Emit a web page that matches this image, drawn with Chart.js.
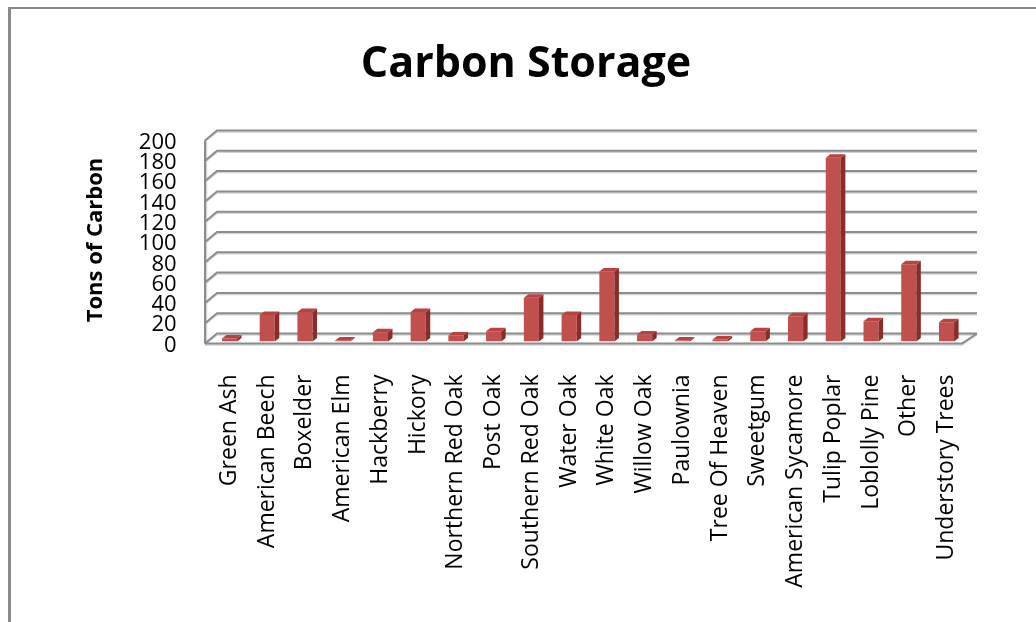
<!DOCTYPE html>
<html><head><meta charset="utf-8">
<script src="https://cdn.jsdelivr.net/npm/chart.js@4/dist/chart.umd.min.js"></script>
<style>html,body{margin:0;padding:0;background:#fff;overflow:hidden}
#wrap{position:relative;width:1036px;height:622px}</style></head>
<body><div id="wrap"><canvas id="c"></canvas></div>
<script>
const categories = ["Green Ash","American Beech","Boxelder","American Elm","Hackberry","Hickory","Northern Red Oak","Post Oak","Southern Red Oak","Water Oak","White Oak","Willow Oak","Paulownia","Tree Of Heaven","Sweetgum","American Sycamore","Tulip Poplar","Loblolly Pine","Other","Understory Trees"];
const carbonTons = [3,26,29,1,9,29,6,10,43,26,69,7,1,2,10,25,181,20,76,19];
const yTicks = [0,20,40,60,80,100,120,140,160,180,200];
const chartTitle = "Carbon Storage";
const yTitle = "Tons of Carbon";

const FONT = "'Open Sans', 'DejaVu Sans', sans-serif";
const frame3d = {
  id: 'frame3d',
  beforeDraw(chart) {
    const ctx = chart.ctx;
    ctx.save();
    ctx.fillStyle = '#8a8a8a';
    ctx.fillRect(8, 7, 3, 615);
    ctx.fillRect(8, 7, 1028, 2);
    ctx.restore();
  },
  beforeDatasetsDraw(chart) {
    const {ctx, chartArea: a, scales: {y}} = chart;
    const fx = a.left - 5.6, bx = a.left + 6.4, brx = a.right + 11.6, frx = a.right - 3.4;
    const fdy = 2, bdy = -8;
    ctx.save();
    const drawAll = (off, color, w) => {
      ctx.strokeStyle = color; ctx.lineWidth = w;
      yTicks.forEach(v => {
        const yy = y.getPixelForValue(v) + off;
        ctx.beginPath(); ctx.moveTo(fx, yy + fdy); ctx.lineTo(bx, yy + bdy); ctx.lineTo(brx, yy + bdy); ctx.stroke();
      });
      const y0 = y.getPixelForValue(0) + off, yT = y.getPixelForValue(200) + off;
      ctx.beginPath(); ctx.moveTo(fx + off, y0 + fdy); ctx.lineTo(fx + off, yT + fdy); ctx.stroke();
      ctx.beginPath(); ctx.moveTo(fx, y0 + fdy); ctx.lineTo(frx, y0 + fdy); ctx.lineTo(brx, y0 + bdy); ctx.stroke();
    };
    drawAll(1.5, '#d4d4d4', 1.5);
    drawAll(0, '#8c8c8c', 2);
    ctx.restore();
  },
  afterDatasetsDraw(chart) {
    const ctx = chart.ctx;
    const d = 4.5, dy = 3.5;
    ctx.save();
    chart.getDatasetMeta(0).data.forEach(bar => {
      const l = bar.x - bar.width / 2, r = bar.x + bar.width / 2, t = bar.y, b = bar.base;
      ctx.fillStyle = '#8b2c2a';
      ctx.beginPath(); ctx.moveTo(r, t); ctx.lineTo(r + d, t - dy); ctx.lineTo(r + d, b - dy); ctx.lineTo(r, b); ctx.closePath(); ctx.fill();
      ctx.fillStyle = '#b8423f';
      ctx.beginPath(); ctx.moveTo(l, t); ctx.lineTo(l + d, t - dy); ctx.lineTo(r + d, t - dy); ctx.lineTo(r, t); ctx.closePath(); ctx.fill();
    });
    ctx.restore();
  }
};

new Chart(document.getElementById('c'), {
  type: 'bar',
  data: {
    labels: categories,
    datasets: [{
      data: carbonTons,
      backgroundColor: '#c0504d',
      borderWidth: 0,
      barPercentage: 0.4,
      categoryPercentage: 1.0
    }]
  },
  options: {
    responsive: true,
    maintainAspectRatio: false,
    animation: false,
    devicePixelRatio: 1,
    layout: {padding: {left: 16, right: 0, top: 0, bottom: 0}},
    plugins: {
      legend: {display: false},
      tooltip: {enabled: false},
      title: {
        display: true, text: chartTitle, color: '#000',
        font: {family: FONT, size: 43, weight: 'bold'},
        padding: {top: 39, bottom: 47.9}
      }
    },
    scales: {
      x: {
        grid: {display: false}, border: {display: false},
        ticks: {minRotation: 90, maxRotation: 90, autoSkip: false, color: '#000',
          font: {family: FONT, size: 23}, padding: 25},
        afterFit(s) { s.height = 280.5; }
      },
      y: {
        min: 0, max: 200,
        grid: {display: false, drawTicks: false}, border: {display: false},
        afterBuildTicks(s) { s.ticks = yTicks.map(v => ({value: v})); },
        ticks: {autoSkip: false, color: '#000', font: {family: FONT, size: 22}, padding: 34, labelOffset: 4},
        title: {display: true, text: yTitle, color: '#000',
          font: {family: FONT, size: 22, weight: 'bold'}, padding: {top: 66.8, bottom: 0}},
        afterFit(s) { s.width = 194.6; }
      },
      y2: {
        position: 'right', display: true,
        grid: {display: false, drawTicks: false}, border: {display: false},
        ticks: {display: false},
        afterFit(s) { s.width = 70.6; }
      }
    }
  },
  plugins: [frame3d]
});
</script></body></html>
